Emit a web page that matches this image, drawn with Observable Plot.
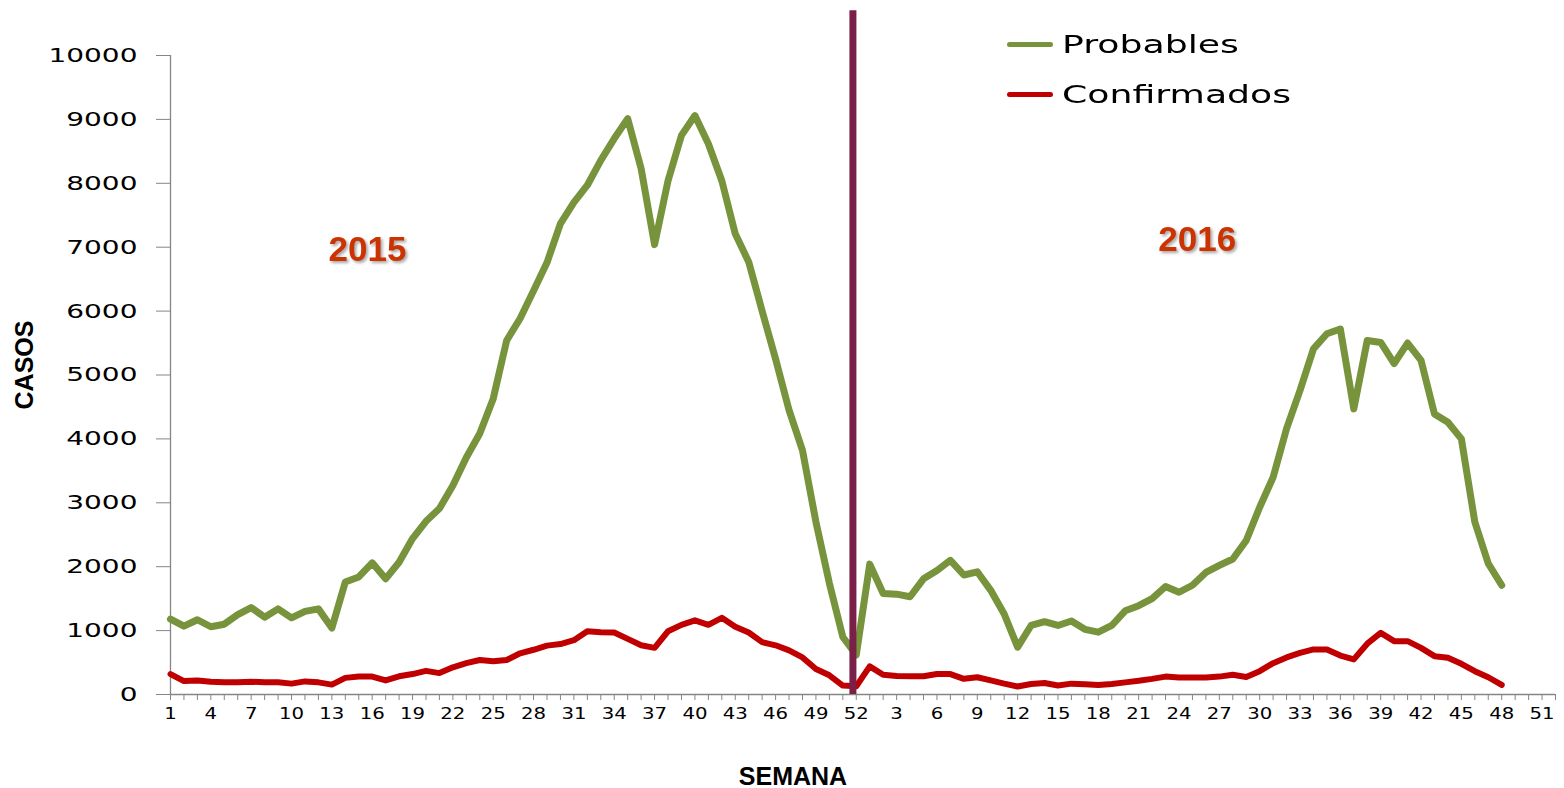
<!DOCTYPE html>
<html><head><meta charset="utf-8">
<script src="https://cdn.jsdelivr.net/npm/d3@7"></script>
<script src="https://cdn.jsdelivr.net/npm/@observablehq/plot@0.6"></script>
<style>
body{margin:0;background:#fff;}
#wrap{position:relative;width:1564px;height:788px;overflow:hidden;}
#legend{position:absolute;left:1007px;top:0;font-family:"DejaVu Sans",sans-serif;}
.row{position:absolute;left:0;height:30px;display:flex;align-items:center;white-space:nowrap;}
.sw{width:46px;height:5px;border-radius:3px;}
.lt{font-size:25px;transform:scaleX(1.45);transform-origin:left center;margin-left:9px;color:#000;}
</style></head><body><div id="wrap"></div>
<script>
// ---- data ----
const semanas2015 = [1,2,3,4,5,6,7,8,9,10,11,12,13,14,15,16,17,18,19,20,21,22,23,24,25,26,27,28,29,30,31,32,33,34,35,36,37,38,39,40,41,42,43,44,45,46,47,48,49,50,51,52];
const semanas2016 = [1,2,3,4,5,6,7,8,9,10,11,12,13,14,15,16,17,18,19,20,21,22,23,24,25,26,27,28,29,30,31,32,33,34,35,36,37,38,39,40,41,42,43,44,45,46,47,48];
const probables2015 = [1180,1070,1170,1060,1100,1250,1360,1210,1340,1200,1300,1340,1040,1760,1840,2060,1810,2070,2440,2710,2910,3270,3710,4085,4630,5540,5885,6320,6760,7370,7700,7970,8360,8700,9010,8230,7040,8040,8750,9060,8620,8040,7210,6770,6000,5250,4450,3820,2700,1740,900,620];
const confirmados2015 = [320,210,220,200,190,190,200,190,190,170,205,190,155,260,280,280,220,285,320,370,335,425,490,540,520,540,645,700,765,790,850,990,975,970,870,770,730,990,1090,1160,1090,1200,1060,970,820,770,690,580,400,300,140,130];
const probables2016 = [2040,1580,1570,1530,1810,1940,2100,1870,1920,1630,1260,740,1080,1140,1080,1150,1020,975,1080,1310,1390,1500,1690,1600,1710,1910,2020,2120,2410,2930,3400,4160,4760,5410,5645,5720,4470,5540,5510,5180,5500,5230,4390,4260,4000,2700,2050,1710];
const confirmados2016 = [440,310,290,285,285,320,320,245,270,220,170,125,165,180,140,170,160,150,165,190,215,245,280,265,265,265,280,310,275,365,490,580,650,705,705,610,550,795,965,835,835,730,600,575,480,365,270,150];
const etiquetasX = [1,4,7,10,13,16,19,22,25,28,31,34,37,40,43,46,49,52,3,6,9,12,15,18,21,24,27,30,33,36,39,42,45,48,51];
const ticksY = [0,1000,2000,3000,4000,5000,6000,7000,8000,9000,10000];
const series = ["Probables","Confirmados"];
const colores = ["#77933C","#C00000"];

// ---- table (position index along the two years) ----
const filas = [];
semanas2015.forEach((s,i)=>{
  filas.push({pos:s-1, serie:"Probables", casos:probables2015[i]});
  filas.push({pos:s-1, serie:"Confirmados", casos:confirmados2015[i]});
});
semanas2016.forEach((s,i)=>{
  filas.push({pos:51+s, serie:"Probables", casos:probables2016[i]});
  filas.push({pos:51+s, serie:"Confirmados", casos:confirmados2016[i]});
});
const nPos = semanas2015.length + 52; // 104 category slots

const svg = Plot.plot({
  width:1564, height:788,
  marginLeft:170, marginRight:9, marginTop:55, marginBottom:94,
  style:{background:"#fff", overflow:"visible"},
  x:{domain:[0,nPos-1], axis:null},
  y:{domain:[0,10000], axis:null},
  color:{domain:series, range:colores},
  marks:[
    Plot.ruleX([0],{y1:0,y2:10000,stroke:"#868686",strokeWidth:1.3}),
    Plot.ruleY([0],{x1:0,x2:nPos-1,stroke:"#868686",strokeWidth:1.3}),
    Plot.axisY({ticks:ticksY, tickSize:14, tickPadding:19, stroke:"#868686", fill:"#000",
      fontSize:20, fontFamily:"DejaVu Sans", tickFormat:d=>String(d)}),
    Plot.axisX({ticks:d3.range(0,nPos), tickSize:6, tickPadding:7, stroke:"#868686", fill:"#000",
      fontSize:16, fontFamily:"DejaVu Sans",
      tickFormat:i => (i%3===0 && etiquetasX[i/3]!==undefined) ? String(etiquetasX[i/3]) : ""}),
    Plot.line(filas.filter(d=>d.serie==="Confirmados"),{x:"pos",y:"casos",stroke:"serie",strokeWidth:6,strokeLinejoin:"round",strokeLinecap:"round"}),
    Plot.line(filas.filter(d=>d.serie==="Probables"),{x:"pos",y:"casos",stroke:"serie",strokeWidth:7,strokeLinejoin:"round",strokeLinecap:"round"}),
    Plot.ruleX([50.75],{y1:0,y2:10700,stroke:"#7A1F48",strokeWidth:7}),
    Plot.text([{p:14.65,v:6956,t:"2015"},{p:76.36,v:7113,t:"2016"}],{x:"p",y:"v",text:"t",
      fontSize:35,fontWeight:"bold",fill:"#CC3300",fontFamily:"Liberation Sans",className:"anio"}),
    Plot.text(["CASOS"],{frameAnchor:"left",textAnchor:"middle",lineAnchor:"middle",dx:-146,dy:-10,rotate:-90,fontSize:25,fontWeight:"bold",fontFamily:"Liberation Sans",fill:"#000"}),
    Plot.text(["SEMANA"],{frameAnchor:"bottom",textAnchor:"middle",lineAnchor:"middle",dx:-70,dy:82,fontSize:25,fontWeight:"bold",fontFamily:"Liberation Sans",fill:"#000"})
  ]
});

function stretch(sel, k){
  d3.select(svg).selectAll(sel).each(function(){
    const t = this.getAttribute("transform") || "";
    this.setAttribute("transform", t + ` scale(${k},1)`);
  });
}
stretch('g[aria-label="y-axis tick label"] text', 1.4);
stretch('g[aria-label="x-axis tick label"] text', 1.23);
d3.select(svg).selectAll('.anio text, g.anio text').style("filter","drop-shadow(2px 2px 1.5px rgba(0,0,0,0.35))");

const wrap = document.getElementById("wrap");
wrap.appendChild(svg);
const leg = document.createElement("div");
leg.id = "legend";
series.forEach((s,i)=>{
  const r = document.createElement("div");
  r.className = "row";
  r.style.top = (29 + i*50) + "px";
  r.innerHTML = `<div class="sw" style="background:${colores[i]}"></div><span class="lt">${s}</span>`;
  leg.appendChild(r);
});
wrap.appendChild(leg);
</script></body></html>
